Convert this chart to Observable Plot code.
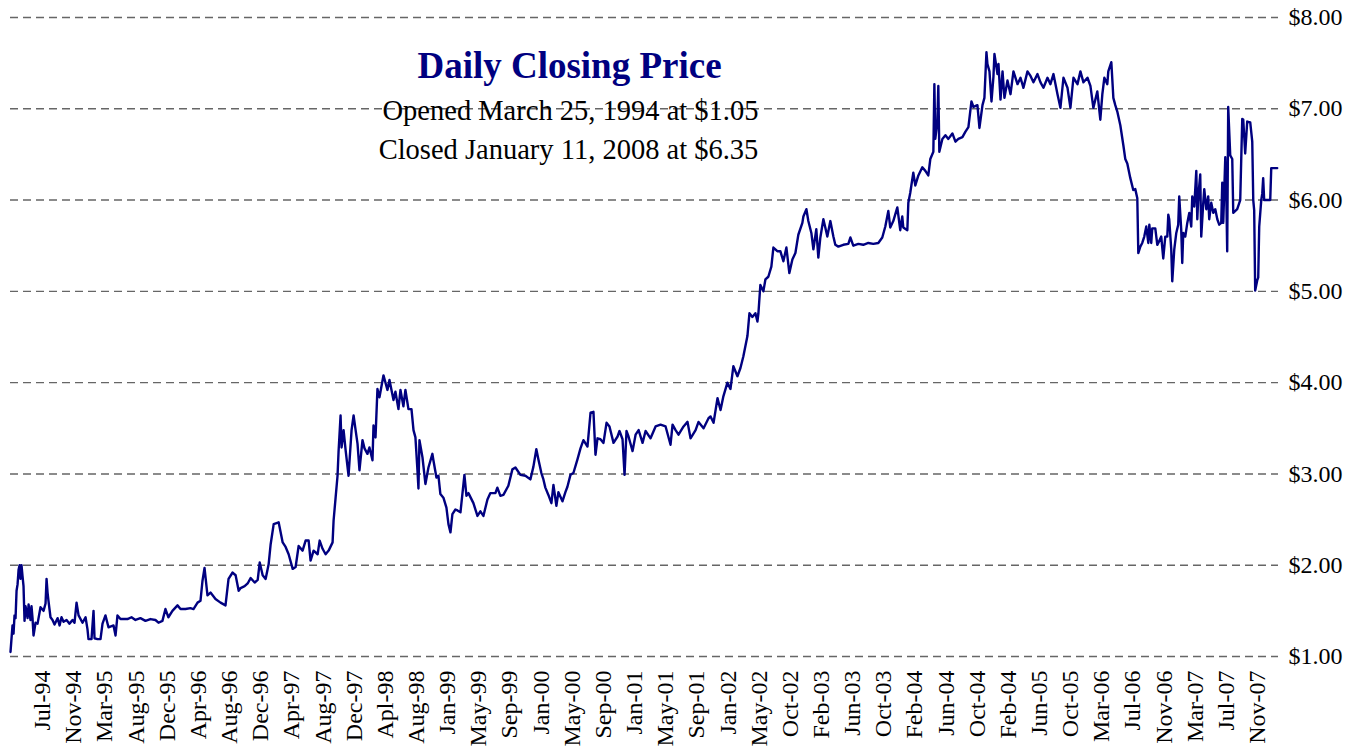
<!DOCTYPE html>
<html><head><meta charset="utf-8">
<script src="https://cdn.jsdelivr.net/npm/d3@7"></script>
<script src="https://cdn.jsdelivr.net/npm/@observablehq/plot@0.6"></script>
<style>html,body{margin:0;padding:0;background:#fff;}</style>
</head><body><div id="chart"></div>
<script>
// ---- text ----
const chartTitle = "Daily Closing Price";
const subtitleLines = ["Opened March 25, 1994 at $1.05", "Closed January 11, 2008 at $6.35"];

// ---- axis ticks ----
const tickLabels = ["Jul-94","Nov-94","Mar-95","Aug-95","Dec-95","Apr-96","Aug-96","Dec-96","Apr-97","Aug-97",
  "Dec-97","Apl-98","Aug-98","Jan-99","May-99","Sep-99","Jan-00","May-00","Sep-00","Jan-01",
  "May-01","Sep-01","Jan-02","May-02","Oct-02","Feb-03","Jun-03","Oct-03","Feb-04","Jun-04",
  "Oct-04","Feb-04","Jun-05","Oct-05","Mar-06","Jul-06","Nov-06","Mar-07","Jul-07","Nov-07"];
const firstTickYear = 1994.576;   // evenly spaced category labels
const tickStepYears = 0.3393;
const priceTicks = [1, 2, 3, 4, 5, 6, 7, 8];

// ---- closing prices: [decimal year, price] ----
const closes1994 = [[1994.227,1.05],[1994.249,1.34],[1994.260,1.25],[1994.271,1.45],[1994.282,1.42],[1994.293,1.72],[1994.304,1.79],[1994.315,1.95],[1994.326,2.00],[1994.336,1.85],[1994.347,2.00],[1994.358,1.88],[1994.369,1.77],[1994.380,1.39],[1994.391,1.55],[1994.413,1.42],[1994.424,1.57],[1994.445,1.40],[1994.456,1.55],[1994.467,1.42],[1994.478,1.23],[1994.500,1.37],[1994.522,1.36],[1994.554,1.54],[1994.587,1.50],[1994.609,1.58],[1994.620,1.85],[1994.631,1.70],[1994.641,1.61],[1994.663,1.43],[1994.685,1.40],[1994.707,1.35],[1994.740,1.42],[1994.762,1.34],[1994.783,1.43],[1994.805,1.38],[1994.838,1.40],[1994.870,1.36],[1994.903,1.40],[1994.925,1.37],[1994.947,1.59],[1994.969,1.45]];
const closes1995 = [[1995.012,1.37],[1995.045,1.43],[1995.066,1.30],[1995.077,1.19],[1995.110,1.19],[1995.132,1.50],[1995.143,1.20],[1995.175,1.19],[1995.208,1.19],[1995.230,1.36],[1995.262,1.45],[1995.295,1.32],[1995.350,1.34],[1995.372,1.23],[1995.393,1.45],[1995.426,1.41],[1995.502,1.41],[1995.546,1.43],[1995.589,1.40],[1995.643,1.42],[1995.698,1.39],[1995.752,1.41],[1995.807,1.40],[1995.840,1.37],[1995.883,1.39],[1995.916,1.52],[1995.948,1.43],[1995.992,1.50]];
const closes1996 = [[1996.047,1.56],[1996.080,1.52],[1996.134,1.52],[1996.188,1.53],[1996.221,1.52],[1996.265,1.59],[1996.297,1.61],[1996.319,1.83],[1996.341,1.97],[1996.373,1.67],[1996.406,1.70],[1996.460,1.63],[1996.515,1.59],[1996.569,1.56],[1996.602,1.85],[1996.646,1.92],[1996.679,1.89],[1996.712,1.72],[1996.733,1.75],[1996.777,1.77],[1996.810,1.80],[1996.842,1.86],[1996.886,1.81],[1996.919,1.84],[1996.941,2.03],[1996.973,1.89]];
const closes1997 = [[1997.005,1.85],[1997.038,2.01],[1997.060,2.23],[1997.093,2.45],[1997.147,2.47],[1997.191,2.25],[1997.223,2.20],[1997.256,2.12],[1997.300,1.96],[1997.332,1.98],[1997.365,2.21],[1997.408,2.16],[1997.441,2.27],[1997.474,2.27],[1997.495,2.05],[1997.528,2.16],[1997.572,2.12],[1997.594,2.27],[1997.626,2.18],[1997.659,2.12],[1997.692,2.16],[1997.735,2.25],[1997.746,2.49],[1997.768,2.74],[1997.789,2.98],[1997.800,3.24],[1997.822,3.64],[1997.833,3.29],[1997.855,3.48],[1997.877,3.26],[1997.909,2.98],[1997.942,3.48],[1997.964,3.64],[1997.986,3.48]];
const closes1998 = [[1998.007,3.33],[1998.028,3.04],[1998.061,3.37],[1998.083,3.28],[1998.115,3.22],[1998.137,3.29],[1998.170,3.15],[1998.181,3.53],[1998.203,3.40],[1998.224,3.93],[1998.246,3.84],[1998.290,4.08],[1998.333,3.92],[1998.355,4.03],[1998.399,3.81],[1998.420,3.90],[1998.453,3.71],[1998.475,3.92],[1998.507,3.74],[1998.529,3.92],[1998.562,3.71],[1998.595,3.71],[1998.617,3.48],[1998.638,3.40],[1998.660,3.04],[1998.671,2.84],[1998.682,3.37],[1998.715,3.18],[1998.747,2.89],[1998.780,3.07],[1998.823,3.22],[1998.834,3.15],[1998.867,2.96],[1998.889,2.98],[1998.910,2.78],[1998.943,2.74],[1998.976,2.63]];
const closes1999 = [[1998.998,2.45],[1999.020,2.36],[1999.041,2.56],[1999.074,2.61],[1999.096,2.60],[1999.129,2.58],[1999.172,2.99],[1999.194,2.76],[1999.216,2.79],[1999.270,2.68],[1999.314,2.54],[1999.346,2.59],[1999.379,2.54],[1999.423,2.72],[1999.455,2.79],[1999.510,2.79],[1999.531,2.85],[1999.564,2.76],[1999.597,2.77],[1999.651,2.87],[1999.695,3.05],[1999.728,3.07],[1999.782,2.99],[1999.837,2.98],[1999.891,2.94],[1999.924,3.08],[1999.956,3.27],[1999.978,3.16]];
const closes2000 = [[2000.011,3.01],[2000.033,2.94],[2000.054,2.85],[2000.087,2.77],[2000.120,2.68],[2000.142,2.88],[2000.174,2.65],[2000.196,2.80],[2000.240,2.70],[2000.272,2.80],[2000.294,2.86],[2000.327,2.99],[2000.359,3.01],[2000.403,3.16],[2000.436,3.28],[2000.468,3.37],[2000.512,3.30],[2000.545,3.67],[2000.577,3.68],[2000.599,3.21],[2000.621,3.39],[2000.653,3.38],[2000.686,3.34],[2000.719,3.56],[2000.751,3.52],[2000.795,3.34],[2000.839,3.41],[2000.860,3.47],[2000.893,3.38],[2000.915,2.99],[2000.936,3.47],[2000.958,3.41]];
const closes2001 = [[2001.002,3.25],[2001.035,3.43],[2001.068,3.48],[2001.111,3.34],[2001.144,3.47],[2001.198,3.39],[2001.253,3.52],[2001.307,3.54],[2001.362,3.52],[2001.416,3.32],[2001.438,3.54],[2001.471,3.48],[2001.503,3.43],[2001.558,3.52],[2001.601,3.57],[2001.634,3.39],[2001.689,3.48],[2001.721,3.57],[2001.776,3.50],[2001.830,3.61],[2001.852,3.63],[2001.885,3.56],[2001.928,3.83],[2001.961,3.70]];
const closes2002 = [[2001.992,3.85],[2002.036,4.00],[2002.069,3.93],[2002.101,4.18],[2002.145,4.07],[2002.178,4.16],[2002.210,4.29],[2002.254,4.51],[2002.276,4.76],[2002.308,4.72],[2002.341,4.76],[2002.363,4.67],[2002.374,4.76],[2002.395,5.07],[2002.428,5.00],[2002.450,5.13],[2002.482,5.16],[2002.515,5.27],[2002.537,5.48],[2002.580,5.44],[2002.613,5.44],[2002.646,5.33],[2002.679,5.48],[2002.711,5.20],[2002.744,5.35],[2002.777,5.42],[2002.809,5.62],[2002.853,5.75],[2002.864,5.82],[2002.897,5.90],[2002.918,5.77],[2002.951,5.64],[2002.973,5.46]];
const closes2003 = [[2003.005,5.68],[2003.027,5.37],[2003.049,5.59],[2003.082,5.79],[2003.103,5.70],[2003.125,5.60],[2003.158,5.77],[2003.191,5.60],[2003.212,5.51],[2003.245,5.49],[2003.299,5.51],[2003.354,5.52],[2003.376,5.59],[2003.408,5.50],[2003.463,5.52],[2003.517,5.51],[2003.572,5.53],[2003.626,5.52],[2003.681,5.53],[2003.724,5.59],[2003.757,5.71],[2003.790,5.88],[2003.811,5.70],[2003.844,5.77],[2003.888,5.92],[2003.920,5.67],[2003.942,5.82],[2003.953,5.70],[2003.997,5.67]];
const closes2004 = [[2004.008,5.97],[2004.029,6.08],[2004.062,6.30],[2004.084,6.16],[2004.117,6.27],[2004.160,6.36],[2004.193,6.32],[2004.225,6.27],[2004.247,6.45],[2004.280,6.53],[2004.291,7.27],[2004.301,6.67],[2004.323,6.85],[2004.334,7.25],[2004.345,6.53],[2004.378,6.67],[2004.411,6.71],[2004.443,6.67],[2004.487,6.73],[2004.520,6.64],[2004.552,6.67],[2004.596,6.69],[2004.629,6.75],[2004.661,6.80],[2004.694,7.08],[2004.716,7.02],[2004.759,7.04],[2004.781,6.79],[2004.814,7.04],[2004.835,7.12],[2004.857,7.62],[2004.868,7.49],[2004.890,7.41],[2004.912,7.08],[2004.933,7.35],[2004.944,7.60],[2004.977,7.38],[2004.988,7.49]];
const closes2005 = [[2005.010,7.10],[2005.032,7.41],[2005.053,7.12],[2005.086,7.31],[2005.119,7.16],[2005.151,7.41],[2005.195,7.27],[2005.228,7.34],[2005.260,7.23],[2005.304,7.41],[2005.337,7.36],[2005.369,7.29],[2005.413,7.38],[2005.446,7.29],[2005.478,7.23],[2005.522,7.34],[2005.554,7.27],[2005.587,7.38],[2005.631,7.16],[2005.663,7.01],[2005.696,7.34],[2005.740,7.23],[2005.772,7.01],[2005.805,7.34],[2005.849,7.27],[2005.881,7.41],[2005.914,7.29],[2005.958,7.34],[2005.990,7.25]];
const closes2006 = [[2006.022,7.01],[2006.065,7.19],[2006.098,6.88],[2006.120,7.16],[2006.142,7.34],[2006.174,7.27],[2006.185,7.41],[2006.218,7.51],[2006.240,7.12],[2006.261,7.04],[2006.283,6.97],[2006.316,6.82],[2006.349,6.60],[2006.370,6.45],[2006.392,6.40],[2006.425,6.24],[2006.457,6.11],[2006.479,6.12],[2006.501,6.02],[2006.512,5.42],[2006.534,5.49],[2006.555,5.53],[2006.577,5.60],[2006.599,5.71],[2006.621,5.53],[2006.632,5.73],[2006.653,5.53],[2006.664,5.69],[2006.697,5.69],[2006.719,5.51],[2006.730,5.53],[2006.762,5.60],[2006.784,5.36],[2006.806,5.60],[2006.828,5.60],[2006.839,5.84],[2006.849,5.79],[2006.871,5.46],[2006.882,5.11],[2006.904,5.46],[2006.926,5.64],[2006.947,5.73],[2006.958,6.04],[2006.980,5.67],[2006.991,5.31]];
const closes2007 = [[2007.002,5.64],[2007.024,5.60],[2007.046,5.75],[2007.068,5.86],[2007.089,5.71],[2007.100,6.04],[2007.122,5.93],[2007.144,6.32],[2007.155,5.79],[2007.166,6.04],[2007.187,6.28],[2007.198,5.60],[2007.220,5.97],[2007.231,6.12],[2007.253,5.90],[2007.274,6.04],[2007.285,5.79],[2007.307,5.97],[2007.329,5.86],[2007.351,5.90],[2007.373,5.79],[2007.394,5.73],[2007.416,5.75],[2007.427,6.19],[2007.438,5.75],[2007.460,6.47],[2007.470,6.12],[2007.481,5.44],[2007.492,7.02],[2007.514,6.49],[2007.536,6.45],[2007.547,5.86],[2007.590,5.90],[2007.623,6.00],[2007.645,6.89],[2007.656,6.88],[2007.677,6.51],[2007.699,6.86],[2007.732,6.85],[2007.754,6.64],[2007.765,6.00],[2007.775,5.89],[2007.786,5.01],[2007.808,5.12],[2007.819,5.15],[2007.830,5.71],[2007.852,6.00],[2007.863,6.07],[2007.873,6.24],[2007.884,6.00],[2007.950,6.00],[2007.961,6.35],[2008.026,6.35]];

// ---- build ----
function yearToDate(y) {
  const yr = Math.floor(y);
  const a = Date.UTC(yr, 0, 1), b = Date.UTC(yr + 1, 0, 1);
  return new Date(a + (y - yr) * (b - a));
}
const series = [closes1994, closes1995, closes1996, closes1997, closes1998, closes1999, closes2000,
  closes2001, closes2002, closes2003, closes2004, closes2005, closes2006, closes2007]
  .flat().map(([y, p]) => ({date: yearToDate(y), price: p}));
const tickDates = tickLabels.map((_, i) => yearToDate(firstTickYear + i * tickStepYears));
const labelOf = new Map(tickDates.map((d, i) => [+d, tickLabels[i]]));

const FONT = '"Liberation Serif","Times New Roman",Times,serif';
const chart = Plot.plot({
  width: 1358, height: 749,
  marginLeft: 10, marginRight: 80, marginTop: 17, marginBottom: 93,
  style: {fontFamily: FONT, background: "#fff", color: "#000", overflow: "visible"},
  x: {type: "utc", domain: [yearToDate(1994.227), yearToDate(2008.04)]},
  y: {domain: [1, 8]},
  marks: [
    Plot.ruleY(priceTicks, {stroke: "#666", strokeWidth: 1.4, strokeDasharray: "8,5"}),
    Plot.axisY({ticks: priceTicks, anchor: "right", tickSize: 0, tickPadding: 10, fontSize: 24,
      tickFormat: d => "$" + d.toFixed(2), label: null}),
    Plot.axisX({ticks: tickDates, anchor: "bottom", tickSize: 0, tickPadding: 14, tickRotate: -90,
      fontSize: 24, tickFormat: d => labelOf.get(+d), label: null}),
    Plot.line(series, {x: "date", y: "price", stroke: "#000080", strokeWidth: 2.4}),
    Plot.text([chartTitle], {text: d => d, frameAnchor: "top-left", dx: 559, dy: 60, textAnchor: "middle",
      lineAnchor: "bottom", fontSize: 37, fontWeight: "bold", fill: "#000080"}),
    Plot.text([subtitleLines[0]], {text: d => d, frameAnchor: "top-left", dx: 560, dy: 102, textAnchor: "middle",
      lineAnchor: "bottom", fontSize: 28.5, fill: "#000"}),
    Plot.text([subtitleLines[1]], {text: d => d, frameAnchor: "top-left", dx: 558, dy: 141, textAnchor: "middle",
      lineAnchor: "bottom", fontSize: 28.5, fill: "#000"})
  ]
});
document.getElementById("chart").appendChild(chart);
</script>
</body></html>
